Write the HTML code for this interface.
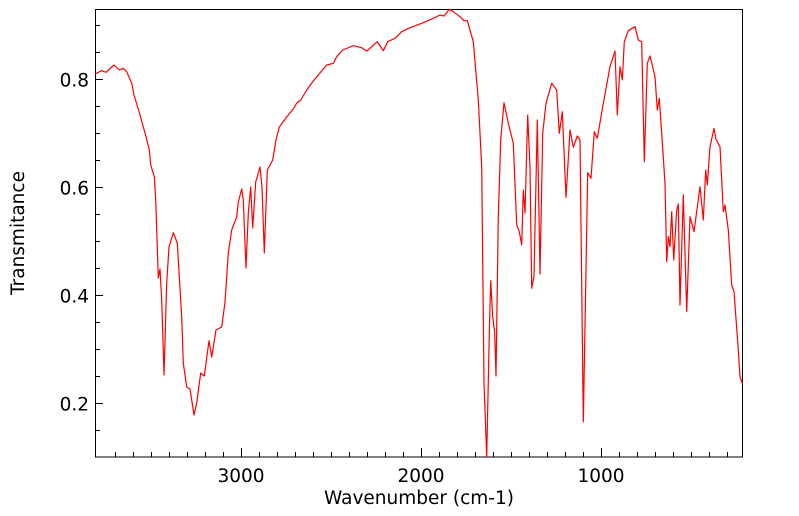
<!DOCTYPE html>
<html><head><meta charset="utf-8"><style>
html,body{margin:0;padding:0;background:#fff;}
svg{display:block;}
text{font-family:"DejaVu Sans","Liberation Sans",sans-serif;font-size:18.5px;fill:#000;}
</style></head><body>
<svg width="799" height="516" viewBox="0 0 799 516" xmlns="http://www.w3.org/2000/svg">
<rect x="95.5" y="9.5" width="647" height="447.5" fill="none" stroke="#000" stroke-width="1"/>
<polyline fill="none" stroke="#ff0000" stroke-width="1.2" stroke-linejoin="round" points="95,74 101.7,70.7 106,72.3 114,65 119.3,70 123.3,68.3 126.7,71.7 131.7,83.3 134,95 140,115 145,133 149.3,150 150.7,165 154.3,176.7 155.7,200 158.3,278 160,269 161.7,300 164,375 166.7,283 169,247 173.3,232.7 177.3,243 181.7,317 183.3,363 186.7,387 190,389 194,415 196.7,403 200.7,373 204.3,376 209,340.7 211.7,357 216,330 221.7,327 225,302 228.3,253 231.7,230 236.7,217 238.3,202 241.7,189 243.3,200 246,268 248.3,213 250.7,187 252.7,228 255.7,182 260,167 262,187 264.3,253 267.3,170 272.7,160 276,140 279.3,127 286.7,117 294,108 296.7,103 300.7,100 306.7,90 314,80 326.7,65 333.3,63.3 336.7,56.7 342.7,50 353.3,45.7 361.7,47.7 366.7,51 377.3,41.7 383.3,50.7 387.7,41.7 395,38.3 401.7,31.7 410,27.7 423.3,22.7 433.3,18.3 440,15 444,16 449.3,9.3 453.3,11.7 460,16.7 464,20.7 467.3,20.7 473.3,41.7 478.3,100 481.7,166.7 484,383 486.7,457 489.3,333 490.7,280.7 492.7,316.7 494.7,333 496,376 498.3,216.7 500.7,140 504,102.7 508.3,123.3 513.3,143.3 516.7,225 519.3,231.7 521.7,245 523.3,190 525,213 527.7,115 530,166.7 531.7,288.3 534,276 537.3,120 540,274 542.7,133.3 546,103.3 551.7,83.3 556.7,90 559.3,133.3 562.3,111.7 566,197.3 570,130 573.3,147.3 577.3,136 580,140 583.3,421.7 587.7,172.7 591,178.3 594.3,131.7 597.3,138.3 602.7,106.7 610,66.7 615,51 617.3,115 620,66.7 622.3,80 624.3,41.7 628.3,30.7 635,26.7 638.3,40 641.7,41.7 644.3,161.7 647.3,63.3 650,56 655,76.7 657.3,110 659.3,98.3 661.7,133.3 665,183.3 666.7,261.7 668.3,236.7 670,246.7 671.7,211.7 673.7,260 676.7,210 678.3,204 680,305 683.3,195 686.7,311.7 690,216.7 694,231.7 700,186.7 703.3,220 705.7,170 707.3,185 710,146.7 714,128.3 716,139.3 720,146.7 723.3,211.7 725,205 728.3,230 731.7,285 734,291.7 738.3,350 740,376.7 742.5,384"/>
<g stroke="#000" stroke-width="1">
<line x1="95" y1="25.5" x2="100" y2="25.5"/><line x1="95" y1="52.5" x2="100" y2="52.5"/><line x1="95" y1="79.5" x2="103" y2="79.5"/><line x1="95" y1="106.5" x2="100" y2="106.5"/><line x1="95" y1="133.5" x2="100" y2="133.5"/><line x1="95" y1="160.5" x2="100" y2="160.5"/><line x1="95" y1="187.5" x2="103" y2="187.5"/><line x1="95" y1="214.5" x2="100" y2="214.5"/><line x1="95" y1="241.5" x2="100" y2="241.5"/><line x1="95" y1="268.5" x2="100" y2="268.5"/><line x1="95" y1="295.5" x2="103" y2="295.5"/><line x1="95" y1="322.5" x2="100" y2="322.5"/><line x1="95" y1="349.5" x2="100" y2="349.5"/><line x1="95" y1="376.5" x2="100" y2="376.5"/><line x1="95" y1="403.5" x2="103" y2="403.5"/><line x1="95" y1="430.5" x2="100" y2="430.5"/>
<line x1="115.5" y1="457" x2="115.5" y2="452"/><line x1="133.5" y1="457" x2="133.5" y2="452"/><line x1="151.5" y1="457" x2="151.5" y2="452"/><line x1="169.5" y1="457" x2="169.5" y2="452"/><line x1="187.5" y1="457" x2="187.5" y2="452"/><line x1="205.5" y1="457" x2="205.5" y2="452"/><line x1="223.5" y1="457" x2="223.5" y2="452"/><line x1="241.5" y1="457" x2="241.5" y2="448"/><line x1="259.5" y1="457" x2="259.5" y2="452"/><line x1="277.5" y1="457" x2="277.5" y2="452"/><line x1="295.5" y1="457" x2="295.5" y2="452"/><line x1="313.5" y1="457" x2="313.5" y2="452"/><line x1="331.5" y1="457" x2="331.5" y2="452"/><line x1="349.5" y1="457" x2="349.5" y2="452"/><line x1="367.5" y1="457" x2="367.5" y2="452"/><line x1="385.5" y1="457" x2="385.5" y2="452"/><line x1="403.5" y1="457" x2="403.5" y2="452"/><line x1="421.5" y1="457" x2="421.5" y2="448"/><line x1="439.5" y1="457" x2="439.5" y2="452"/><line x1="457.5" y1="457" x2="457.5" y2="452"/><line x1="475.5" y1="457" x2="475.5" y2="452"/><line x1="493.5" y1="457" x2="493.5" y2="452"/><line x1="511.5" y1="457" x2="511.5" y2="452"/><line x1="529.5" y1="457" x2="529.5" y2="452"/><line x1="547.5" y1="457" x2="547.5" y2="452"/><line x1="565.5" y1="457" x2="565.5" y2="452"/><line x1="583.5" y1="457" x2="583.5" y2="452"/><line x1="601.5" y1="457" x2="601.5" y2="448"/><line x1="619.5" y1="457" x2="619.5" y2="452"/><line x1="637.5" y1="457" x2="637.5" y2="452"/><line x1="655.5" y1="457" x2="655.5" y2="452"/><line x1="673.5" y1="457" x2="673.5" y2="452"/><line x1="691.5" y1="457" x2="691.5" y2="452"/><line x1="709.5" y1="457" x2="709.5" y2="452"/><line x1="727.5" y1="457" x2="727.5" y2="452"/>
</g>
<text x="89" y="86.5" text-anchor="end">0.8</text>
<text x="89" y="194.5" text-anchor="end">0.6</text>
<text x="89" y="302.5" text-anchor="end">0.4</text>
<text x="89" y="410.5" text-anchor="end">0.2</text>
<text x="241" y="482" text-anchor="middle">3000</text>
<text x="421" y="482" text-anchor="middle">2000</text>
<text x="601" y="482" text-anchor="middle">1000</text>
<text x="419" y="504" text-anchor="middle">Wavenumber (cm-1)</text>
<text x="0" y="0" text-anchor="middle" transform="translate(24,233) rotate(-90)">Transmitance</text>
</svg>
</body></html>
